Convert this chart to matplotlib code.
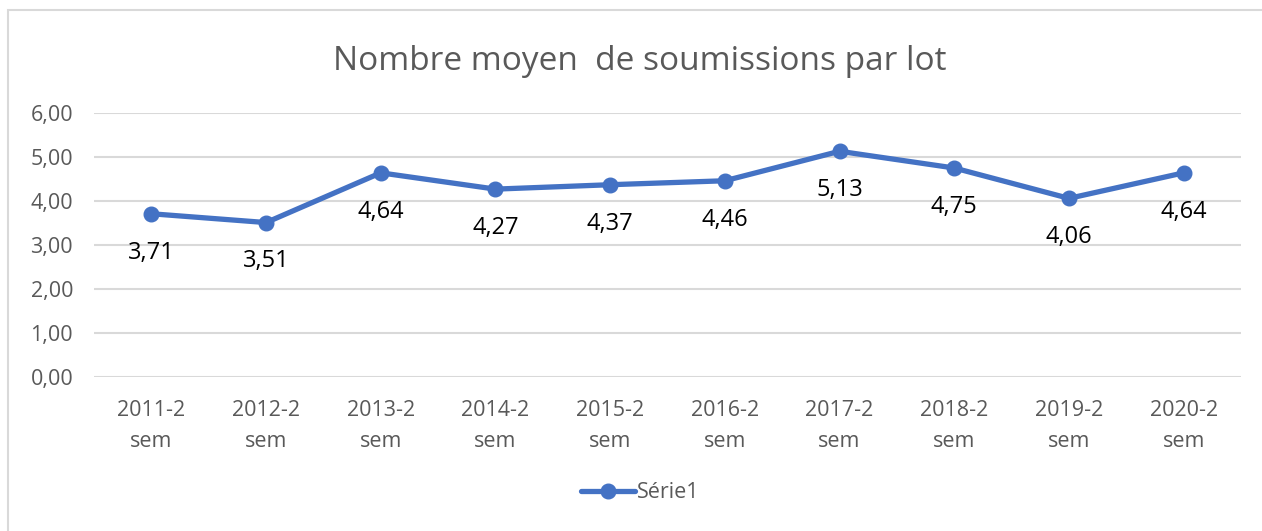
import matplotlib
matplotlib.use("Agg")
import matplotlib.pyplot as plt
from matplotlib.patches import Rectangle

categories = ["2011-2\nsem", "2012-2\nsem", "2013-2\nsem", "2014-2\nsem", "2015-2\nsem",
              "2016-2\nsem", "2017-2\nsem", "2018-2\nsem", "2019-2\nsem", "2020-2\nsem"]
values = [3.71, 3.51, 4.64, 4.27, 4.37, 4.46, 5.13, 4.75, 4.06, 4.64]
y_ticks = [0, 1, 2, 3, 4, 5, 6]
series_name = "Série1"
title = "Nombre moyen  de soumissions par lot"

plt.rcParams['font.family'] = ['Open Sans', 'DejaVu Sans']
blue = "#4472C4"
gray = "#595959"

fig = plt.figure(figsize=(12.62, 5.31), dpi=100)
fig.patches.append(Rectangle((8/1262, -0.1), 1.2, 1 - 10/531 + 0.1, transform=fig.transFigure,
                             fill=False, edgecolor="#D9D9D9", linewidth=1.5))
ax = fig.add_axes([94/1262, 1 - 377/531, 1147/1262, 264/531])

x = list(range(len(values)))
ax.plot(x, values, color=blue, linewidth=3.8, marker="o", markersize=10.5,
        solid_capstyle="round", label=series_name, zorder=3)
for xi, v in zip(x, values):
    ax.annotate(f"{v:.2f}".replace(".", ","), (xi, v), xytext=(0, -28),
                textcoords="offset points", ha="center", va="center",
                fontsize=17, color="black")

ax.set_xlim(-0.5, len(values) - 0.5)
ax.set_ylim(0, 6)
ax.set_yticks(y_ticks)
ax.set_yticklabels([f"{t:.2f}".replace(".", ",") for t in y_ticks])
ax.set_xticks(x)
ax.set_xticklabels(categories, linespacing=1.65)
ax.tick_params(axis="both", length=0, labelsize=15.5, labelcolor=gray)
ax.tick_params(axis="y", pad=15)
ax.tick_params(axis="x", pad=16.5)
ax.grid(axis="y", color="#D9D9D9", linewidth=1.5)
ax.set_axisbelow(True)
for s in ax.spines.values():
    s.set_visible(False)

fig.text(640/1262, 1 - 61/531, title, ha="center", va="center", fontsize=24, color=gray)
fig.legend(loc="center", bbox_to_anchor=(640/1262, 1 - 493/531), frameon=False,
           fontsize=15.5, labelcolor=gray, handlelength=2.5, handletextpad=0.1)

fig.savefig("out.png", dpi=100)
